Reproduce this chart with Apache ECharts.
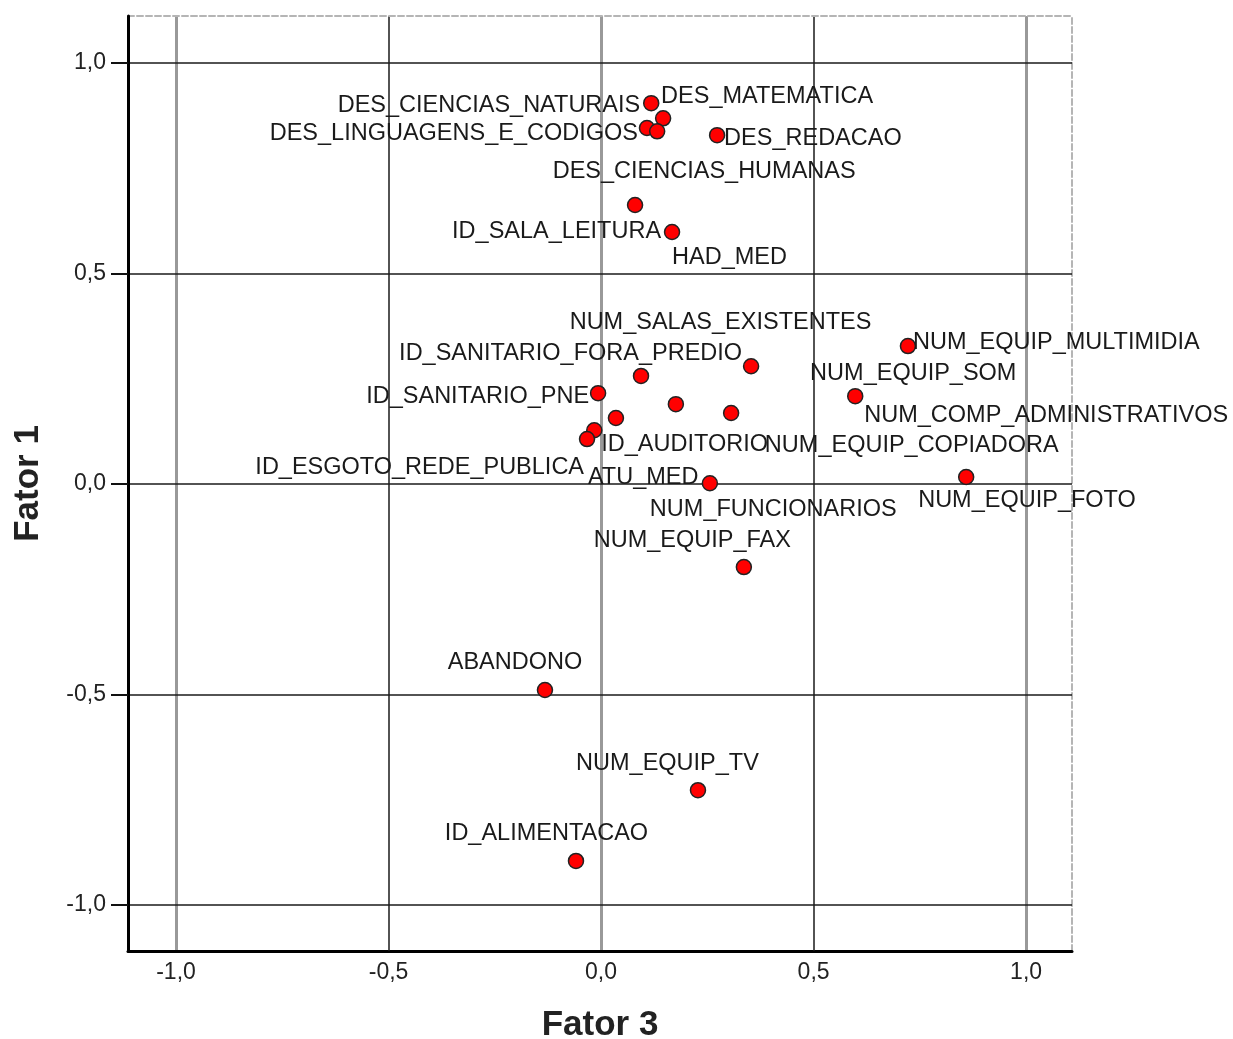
<!DOCTYPE html>
<html><head><meta charset="utf-8">
<script src="https://cdn.jsdelivr.net/npm/echarts@6/dist/echarts.min.js"></script>
<style>html,body{margin:0;padding:0;background:#fff}#c{width:1233px;height:1039px}</style>
</head><body><div id="c"></div>
<script>
// ---- data ----
const names = ['DES_CIENCIAS_NATURAIS','DES_MATEMATICA','DES_LINGUAGENS_E_CODIGOS','DES_CIENCIAS_HUMANAS','DES_REDACAO','ID_SALA_LEITURA','HAD_MED','ID_SANITARIO_FORA_PREDIO','NUM_SALAS_EXISTENTES','NUM_EQUIP_MULTIMIDIA','NUM_COMP_ADMINISTRATIVOS','ID_SANITARIO_PNE','NUM_EQUIP_SOM','NUM_EQUIP_COPIADORA','ATU_MED','ID_AUDITORIO','ID_ESGOTO_REDE_PUBLICA','NUM_FUNCIONARIOS','NUM_EQUIP_FOTO','NUM_EQUIP_FAX','ABANDONO','NUM_EQUIP_TV','ID_ALIMENTACAO'];
const fator3 = [0.118, 0.146, 0.108, 0.132, 0.273, 0.080, 0.167, 0.353, 0.094, 0.722, 0.598, -0.007, 0.306, 0.176, 0.035, -0.016, -0.033, 0.256, 0.859, 0.336, -0.132, 0.228, -0.059];
const fator1 = [0.905, 0.869, 0.846, 0.838, 0.829, 0.663, 0.599, 0.280, 0.257, 0.328, 0.209, 0.216, 0.169, 0.190, 0.157, 0.128, 0.107, 0.002, 0.017, -0.197, -0.489, -0.727, -0.895];
const tickValues = [-1, -0.5, 0, 0.5, 1];
const majorX = [-1, 0, 1];
const minorX = [-0.5, 0.5];
const xTitle = 'Fator 3';
const yTitle = 'Fator 1';

// ---- label placement (layout only): [align, dx, dy] from point centre ----
const labelPlacement = [
  ['right', -11, 2], ['left', -2, -22], ['right', -9, 6], ['center', 47, 40], ['left', 7, 3],
  ['right', 26, 26], ['left', 0, 26], ['right', -9, -13], ['center', 79.5, -53], ['left', 5, -4],
  ['left', 9, 19], ['right', -9, 3], ['left', 79, -39], ['left', 89, 41], ['left', -28, 59],
  ['left', 7, 14], ['right', -3, 28], ['left', -60, 26], ['left', -48, 24], ['center', -51.5, -27],
  ['center', -30, -27], ['center', -30.5, -27], ['center', -29.5, -27]
];

const FONT = "'Liberation Sans', Arial, sans-serif";
const fmt = v => (Math.abs(v) < 1e-9 ? 0 : v).toFixed(1).replace('.', ',');
const XMIN = -1.113, XMAX = 1.108, YMIN = -1.109, YMAX = 1.112;

const chart = echarts.init(document.getElementById('c'), null, {renderer: 'canvas'});
const data = fator3.map((x, i) => ({
  name: names[i],
  value: [x, fator1[i]],
  label: { align: labelPlacement[i][0], offset: [labelPlacement[i][1], labelPlacement[i][2]] }
}));

chart.setOption({
  animation: false,
  backgroundColor: '#fff',
  grid: { left: 128, right: 161, top: 16, bottom: 88, containLabel: false, outerBoundsMode: 'none' },
  xAxis: [
    {
      type: 'value', position: 'bottom', min: XMIN, max: XMAX,
      name: xTitle, nameLocation: 'middle', nameGap: 57,
      nameTextStyle: { fontFamily: FONT, fontSize: 35, fontWeight: 'bold', color: '#222' },
      axisLine: { show: true, onZero: false, lineStyle: { color: '#000', width: 3 } },
      axisTick: { show: false, customValues: majorX },
      axisLabel: { customValues: tickValues, formatter: fmt, margin: 10, fontFamily: FONT, fontSize: 23, color: '#222' },
      splitLine: { show: true, lineStyle: { color: '#999', width: 3 } },
      z: 1
    },
    {
      type: 'value', position: 'top', min: XMIN, max: XMAX,
      axisLine: { show: true, onZero: false, lineStyle: { color: '#b5b5b5', width: 2, type: [6, 3] } },
      axisTick: { show: false, customValues: minorX },
      axisLabel: { show: false },
      splitLine: { show: true, lineStyle: { color: '#1a1a1a', width: 1.5 } },
      z: 2
    }
  ],
  yAxis: [
    {
      type: 'value', position: 'left', min: YMIN, max: YMAX,
      name: yTitle, nameLocation: 'middle', nameGap: 82,
      nameTextStyle: { fontFamily: FONT, fontSize: 35, fontWeight: 'bold', color: '#222' },
      axisLine: { show: true, onZero: false, lineStyle: { color: '#000', width: 3 } },
      axisTick: { show: true, customValues: tickValues, length: 17, inside: false, lineStyle: { color: '#111', width: 2 } },
      axisLabel: { customValues: tickValues, formatter: fmt, margin: 22, fontFamily: FONT, fontSize: 23, color: '#222' },
      splitLine: { show: true, lineStyle: { color: '#1a1a1a', width: 1.5 } },
      z: 3
    },
    {
      type: 'value', position: 'right', min: YMIN, max: YMAX,
      axisLine: { show: true, onZero: false, lineStyle: { color: '#b5b5b5', width: 2, type: [6, 3] } },
      axisTick: { show: false }, axisLabel: { show: false }, splitLine: { show: false }
    }
  ],
  series: [{
    type: 'scatter',
    xAxisIndex: 0, yAxisIndex: 0,
    symbol: 'circle', symbolSize: 15,
    itemStyle: { color: '#f00', borderColor: '#222', borderWidth: 1.5, opacity: 1 },
    label: {
      show: true, position: 'inside', formatter: '{b}', verticalAlign: 'middle',
      fontFamily: FONT, fontSize: 23.5, color: '#1a1a1a'
    },
    emphasis: { disabled: true },
    data: data,
    z: 10
  }]
});
</script></body></html>
